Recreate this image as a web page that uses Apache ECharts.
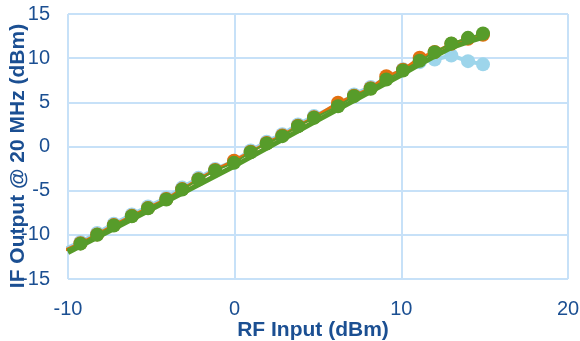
<!DOCTYPE html>
<html>
<head>
<meta charset="utf-8">
<script src="https://cdn.jsdelivr.net/npm/echarts@6/dist/echarts.min.js"></script>
<style>html,body{margin:0;padding:0;background:#fff}#c{width:580px;height:341px}</style>
</head>
<body>
<div id="c"></div>
<script>
// RF input (dBm) for each measured point
const rfIn = [-10.2, -9.25, -8.25, -7.25, -6.17, -5.2, -4.1, -3.15, -2.17, -1.17, -0.04, 0.96, 1.92, 2.86, 3.8, 4.76, 6.2, 7.16, 8.16, 9.1, 10.1, 11.1, 12.0, 13.0, 14.0, 14.9];
// IF output (dBm) per series
const ifGreen  = [-11.78, -11.0, -10.0, -8.95, -7.9, -7.0, -6.0, -4.87, -3.74, -2.72, -1.85, -0.65, 0.34, 1.17, 2.3, 3.25, 4.56, 5.7, 6.54, 7.58, 8.6, 9.7, 10.68, 11.66, 12.3, 12.8];
const ifOrange = [-11.75, -10.95, -9.95, -8.9, -7.85, -6.95, -5.95, -4.82, -3.7, -2.65, -1.6, -0.6, 0.4, 1.25, 2.35, 3.3, 4.95, 5.75, 6.6, 7.95, 8.7, 10.05, 10.7, 11.62, 12.2, 12.65];
const ifBlue   = [-11.6, -10.8, -9.8, -8.75, -7.7, -6.8, -5.8, -4.65, -3.55, -2.55, -1.65, -0.45, 0.55, 1.4, 2.5, 3.45, 4.7, 5.9, 6.75, 7.75, 8.75, 9.55, 9.85, 10.3, 9.66, 9.3];
// Reference (trend) line
const refX = [-10, 0, 5, 10, 11, 12, 13, 14, 15];
const refY = [-12.0, -2.2, 3.0, 8.1, 9.2, 10.2, 11.2, 11.85, 12.4];
// Tick settings
const xTicks = {min: -10, max: 20, step: 10};
const yTicks = {min: -15, max: 15, step: 5};
const xTitle = 'RF Input (dBm)';
const yTitle = 'IF Output @ 20 MHz (dBm)';

const pair = (xs, ys) => xs.map((x, i) => [x, ys[i]]);
const txt = '#1b4f92';
const gridC = '#c7e1f8';
const ff = 'Liberation Sans';

const chart = echarts.init(document.getElementById('c'), null, {renderer: 'canvas'});
chart.setOption({
  animation: false,
  grid: {left: 68, right: 12, top: 14, bottom: 62, containLabel: false, outerBoundsMode: 'none'},
  graphic: [
    {type: 'text', x: 313, y: 330, z: 100,
     style: {text: xTitle, font: 'bold 21px "Liberation Sans"', fill: txt, align: 'center', verticalAlign: 'middle'}},
    {type: 'text', x: 18, y: 156, rotation: Math.PI / 2, z: 100,
     style: {text: yTitle, font: 'bold 21px "Liberation Sans"', fill: txt, align: 'center', verticalAlign: 'middle'}}
  ],
  xAxis: {
    type: 'value', min: xTicks.min, max: xTicks.max, interval: xTicks.step,
    axisLine: {show: true, lineStyle: {color: gridC, width: 2}},
    axisTick: {show: false},
    axisLabel: {color: txt, fontSize: 20, fontFamily: ff, margin: 20},
    splitLine: {show: true, lineStyle: {color: gridC, width: 2}}
  },
  yAxis: {
    type: 'value', min: yTicks.min, max: yTicks.max, interval: yTicks.step,
    axisLine: {show: true, lineStyle: {color: gridC, width: 2}},
    axisTick: {show: false},
    axisLabel: {color: txt, fontSize: 20, fontFamily: ff, margin: 18},
    splitLine: {show: true, lineStyle: {color: gridC, width: 2}}
  },
  series: [
    {type: 'line', data: pair(rfIn, ifBlue), symbol: 'circle', symbolSize: 14,
     itemStyle: {color: '#9dd5eb'}, lineStyle: {color: '#9dd5eb', width: 4}, z: 2},
    {type: 'line', data: pair(rfIn, ifOrange), symbol: 'circle', symbolSize: 14,
     itemStyle: {color: '#e3700f'}, lineStyle: {color: '#e3700f', width: 3}, z: 3},
    {type: 'line', data: pair(refX, refY), symbol: 'none',
     lineStyle: {color: '#569b29', width: 5}, z: 4},
    {type: 'line', data: pair(rfIn, ifGreen), symbol: 'circle', symbolSize: 14,
     itemStyle: {color: '#579c2a'}, lineStyle: {color: '#579c2a', width: 2}, z: 5}
  ]
});
</script>
</body>
</html>
